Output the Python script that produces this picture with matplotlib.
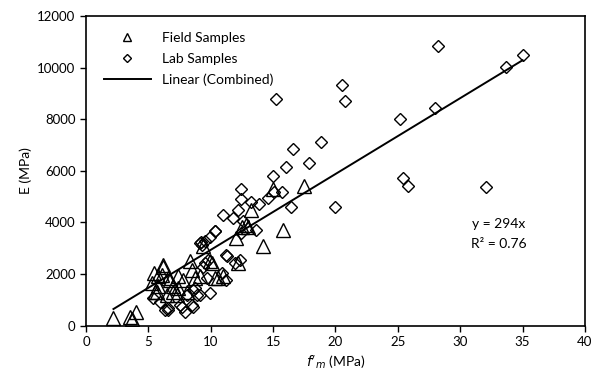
import matplotlib
matplotlib.use("Agg")
import matplotlib.pyplot as plt
import numpy as np
from matplotlib.lines import Line2D

plt.rcParams['font.family'] = ['Lato', 'DejaVu Sans']

field_x = [2.2, 3.5, 3.7, 4.0, 5.3, 5.45, 5.5, 5.7, 5.8, 5.8, 6.1, 6.2, 6.2, 6.5,
           6.6, 6.7, 7.0, 7.0, 7.3, 7.4, 7.4, 7.8, 8.1, 8.35, 8.5, 8.75, 9.15, 9.4,
           9.95, 10.1, 10.3, 10.6, 11.0, 12.0, 12.2, 12.5, 12.8, 13.0, 13.2, 14.2,
           15.0, 15.8, 17.5]
field_y = [290, 350, 250, 520, 1650, 2040, 1320, 1300, 1910, 1520, 1970, 2270, 2360, 1190,
           1840, 1780, 1520, 1320, 1190, 1910, 1450, 1780, 1320, 2490, 2170, 1840, 1910, 3070,
           2490, 2430, 1840, 1840, 1910, 3400, 2430, 3830, 3900, 3830, 4470, 3100,
           5280, 3720, 5410]

lab_x = [5.4, 5.9, 6.3, 6.6, 6.6, 7.5, 7.7, 7.95, 8.1, 8.5, 8.6, 8.6, 8.75, 8.9,
         9.15, 9.15, 9.2, 9.3, 9.4, 9.5, 9.55, 9.7, 9.8, 9.95, 9.95, 10.3, 10.35,
         10.9, 11.0, 11.2, 11.2, 11.3, 11.8, 11.96, 12.2, 12.36, 12.4, 12.4, 12.4,
         12.6, 13.2, 13.6, 13.9, 14.6, 14.95, 15.1, 15.7, 16.0, 16.45, 16.6, 17.9,
         18.8, 20.0, 20.5, 20.8, 25.2, 25.4, 25.8, 28.0, 28.25, 32.1, 33.7, 35.0,
         15.2]
lab_y = [1070, 930, 610, 680, 610, 800, 740, 545, 1190, 800, 1390, 740, 1450, 1190,
         1190, 3200, 3260, 3140, 2270, 2430, 3270, 1840, 2560, 3440, 1260, 3660, 3660,
         2040, 4290, 2750, 1780, 2710, 4190, 2430, 4500, 2550, 5300, 4920, 3590,
         4070, 4810, 3700, 4720, 4940, 5800, 5170, 5170, 6160, 4600, 6850, 6290,
         7120, 4600, 9340, 8710, 8000, 5730, 5430, 8430, 10850, 5380, 10040, 10500,
         8800]

slope = 294
r2 = 0.76

fig = plt.figure(figsize=(5.99, 3.83), dpi=100)
ax = fig.add_axes([0.1436, 0.1496, 0.9766 - 0.1436, 0.958 - 0.1496])

ax.plot(field_x, field_y, linestyle='none', marker='^', markersize=9.5,
        markerfacecolor='none', markeredgecolor='black', markeredgewidth=1.0)
ax.plot(lab_x, lab_y, linestyle='none', marker='D', markersize=6.0,
        markerfacecolor='none', markeredgecolor='black', markeredgewidth=1.0)

all_x = np.array(field_x + lab_x)
xl = np.array([all_x.min(), all_x.max()])
ax.plot(xl, slope * xl, color='black', linewidth=1.4)

ax.set_xlim(0, 40)
ax.set_ylim(0, 12000)
ax.set_xticks(np.arange(0, 41, 5))
ax.set_yticks(np.arange(0, 12001, 2000))
ax.tick_params(direction='out', length=4, width=1, labelsize=9.5, colors='black')
for s in ax.spines.values():
    s.set_linewidth(1.2)

ax.set_xlabel(r"$f'_m$ (MPa)", fontsize=10)
ax.set_ylabel("E (MPa)", fontsize=10)

ax.text(33.1, 3960, "y = 294x", ha='center', va='center', fontsize=10)
ax.text(33.1, 3180, "R² = 0.76", ha='center', va='center', fontsize=10)

handles = [
    Line2D([], [], linestyle='none', marker='^', markersize=6, markerfacecolor='none',
           markeredgecolor='black'),
    Line2D([], [], linestyle='none', marker='D', markersize=4.5, markerfacecolor='none',
           markeredgecolor='black'),
    Line2D([], [], color='black', linewidth=1.4),
]
ax.legend(handles, ["Field Samples", "Lab Samples", "Linear (Combined)"],
          loc='upper left', bbox_to_anchor=(0.01, 0.99), frameon=False, fontsize=10,
          handlelength=3.4, handletextpad=0.8, labelspacing=0.65)

fig.savefig("out.png", dpi=100)
